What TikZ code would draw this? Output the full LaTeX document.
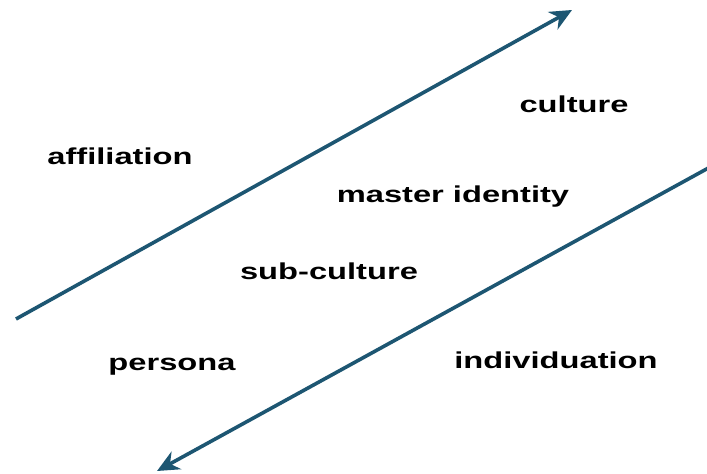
\documentclass[tikz,border=0pt]{standalone}
\usepackage{fontspec}
\setmainfont{Liberation Sans}
\usepackage{xcolor}
\usetikzlibrary{arrows.meta}
\definecolor{axisblue}{HTML}{1D5672}

\begin{document}
\begin{tikzpicture}[x=1pt,y=-1pt,
  lbl/.style={anchor=base,inner sep=0pt,font=\bfseries\fontsize{23}{27}\selectfont,xscale=1.42,transform shape},
  axis/.style={draw=axisblue,line width=3.6pt,-{Stealth[length=22pt,width=20pt]}}]
\useasboundingbox (0,0) rectangle (707,474);
\coordinate (affA) at (16,319);
\coordinate (affB) at (572,10);
\coordinate (indA) at (712,166);
\coordinate (indB) at (157,471);
\draw [axis] (affA) -- (affB) ;
\draw [axis] (indA) -- (indB) ;
%Text
\node [lbl] (affiliation) at (120,164) {affiliation};
\node [lbl] (culture) at (574,112) {culture};
\node [lbl] (master) at (453,202) {master identity};
\node [lbl] (subculture) at (329,279) {sub-culture};
\node [lbl] (persona) at (172,370) {persona};
\node [lbl] (individuation) at (556,368) {individuation};
\end{tikzpicture}
\end{document}
